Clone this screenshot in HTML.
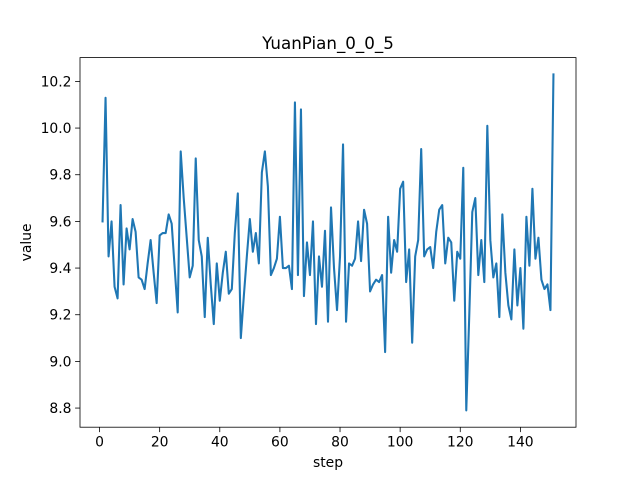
<!DOCTYPE html>
<html><head><meta charset="utf-8"><style>
html,body{margin:0;padding:0;background:#fff;}
svg{display:block;font-family:"DejaVu Sans","Liberation Sans",sans-serif;}
</style></head><body>
<svg id="chart" width="640" height="480" viewBox="0 0 640 480">
<rect width="640" height="480" fill="#fff"/>
<text x="328" y="49" text-anchor="middle" font-size="16.7" fill="#000">YuanPian_0_0_5</text>
<g id="xticks"></g>
<g id="yticks"></g>
<path id="line" fill="none" stroke="#1f77b4" stroke-width="2.08" stroke-linejoin="round" stroke-linecap="square"/>
<rect x="80" y="57.6" width="496" height="369.6" fill="none" stroke="#000" stroke-width="0.8"/>
<text x="328" y="467" text-anchor="middle" font-size="13.9">step</text>
<text transform="translate(31,242.4) rotate(-90)" text-anchor="middle" font-size="13.9">value</text>
</svg>
<script>
const values = [9.60,10.13,9.45,9.60,9.32,9.27,9.67,9.33,9.57,9.48,
9.61,9.555,9.36,9.35,9.31,9.42,9.52,9.38,9.25,9.54,
9.55,9.55,9.63,9.59,9.40,9.21,9.90,9.70,9.53,9.36,
9.41,9.87,9.52,9.45,9.19,9.53,9.33,9.16,9.42,9.26,
9.38,9.47,9.29,9.31,9.55,9.72,9.10,9.28,9.45,9.61,
9.47,9.55,9.42,9.81,9.90,9.75,9.37,9.40,9.44,9.62,
9.40,9.40,9.41,9.31,10.11,9.37,10.08,9.28,9.51,9.37,
9.60,9.16,9.45,9.32,9.56,9.17,9.66,9.40,9.22,9.45,
9.93,9.17,9.42,9.41,9.44,9.60,9.43,9.65,9.59,9.30,
9.33,9.35,9.34,9.37,9.04,9.62,9.38,9.52,9.47,9.74,
9.77,9.34,9.48,9.08,9.45,9.52,9.91,9.45,9.48,9.49,
9.40,9.555,9.65,9.67,9.42,9.53,9.51,9.26,9.47,9.44,
9.83,8.79,9.20,9.64,9.70,9.37,9.52,9.34,10.01,9.52,
9.36,9.42,9.19,9.63,9.38,9.24,9.18,9.48,9.24,9.40,
9.14,9.62,9.41,9.74,9.44,9.53,9.35,9.31,9.33,9.22,10.23];
const xTicks = [0,20,40,60,80,100,120,140];
const yTicks = [8.8,9.0,9.2,9.4,9.6,9.8,10.0,10.2];
const yTickLabels = ["8.8","9.0","9.2","9.4","9.6","9.8","10.0","10.2"];

const NS="http://www.w3.org/2000/svg";
const L=80,R=576,T=57.6,B=427.2;
const steps=values.map((v,i)=>i+1);
const xmin=Math.min(...steps),xmax=Math.max(...steps);
const xm=(xmax-xmin)*0.05;
const ymin=Math.min(...values),ymax=Math.max(...values);
const ym=(ymax-ymin)*0.05;
const X=s=>L+(s-(xmin-xm))/((xmax+xm)-(xmin-xm))*(R-L);
const Y=v=>B-(v-(ymin-ym))/((ymax+ym)-(ymin-ym))*(B-T);

document.getElementById('line').setAttribute('d',values.map((v,i)=>(i?'L':'M')+X(steps[i]).toFixed(2)+','+Y(v).toFixed(2)).join(''));

const xg=document.getElementById('xticks');
xTicks.forEach(t=>{
  const x=X(t);
  const l=document.createElementNS(NS,'line');
  l.setAttribute('x1',x);l.setAttribute('x2',x);l.setAttribute('y1',B);l.setAttribute('y2',B+4.9);
  l.setAttribute('stroke','#000');l.setAttribute('stroke-width','0.8');
  
  
  xg.appendChild(l);
  const tx=document.createElementNS(NS,'text');
  tx.setAttribute('x',x);tx.setAttribute('y',B+19.5);tx.setAttribute('text-anchor','middle');tx.setAttribute('font-size','13.9');
  tx.textContent=String(t);
  
  
  xg.appendChild(tx);
});
const yg=document.getElementById('yticks');
yTicks.forEach((t,i)=>{
  const y=Y(t);
  const l=document.createElementNS(NS,'line');
  l.setAttribute('x1',L-4.9);l.setAttribute('x2',L);l.setAttribute('y1',y);l.setAttribute('y2',y);
  l.setAttribute('stroke','#000');l.setAttribute('stroke-width','0.8');
  
  
  yg.appendChild(l);
  const tx=document.createElementNS(NS,'text');
  tx.setAttribute('x',L-8.5);tx.setAttribute('y',y+5);tx.setAttribute('text-anchor','end');tx.setAttribute('font-size','13.9');
  tx.textContent=yTickLabels[i];
  
  
  yg.appendChild(tx);
});
</script>
</body></html>
